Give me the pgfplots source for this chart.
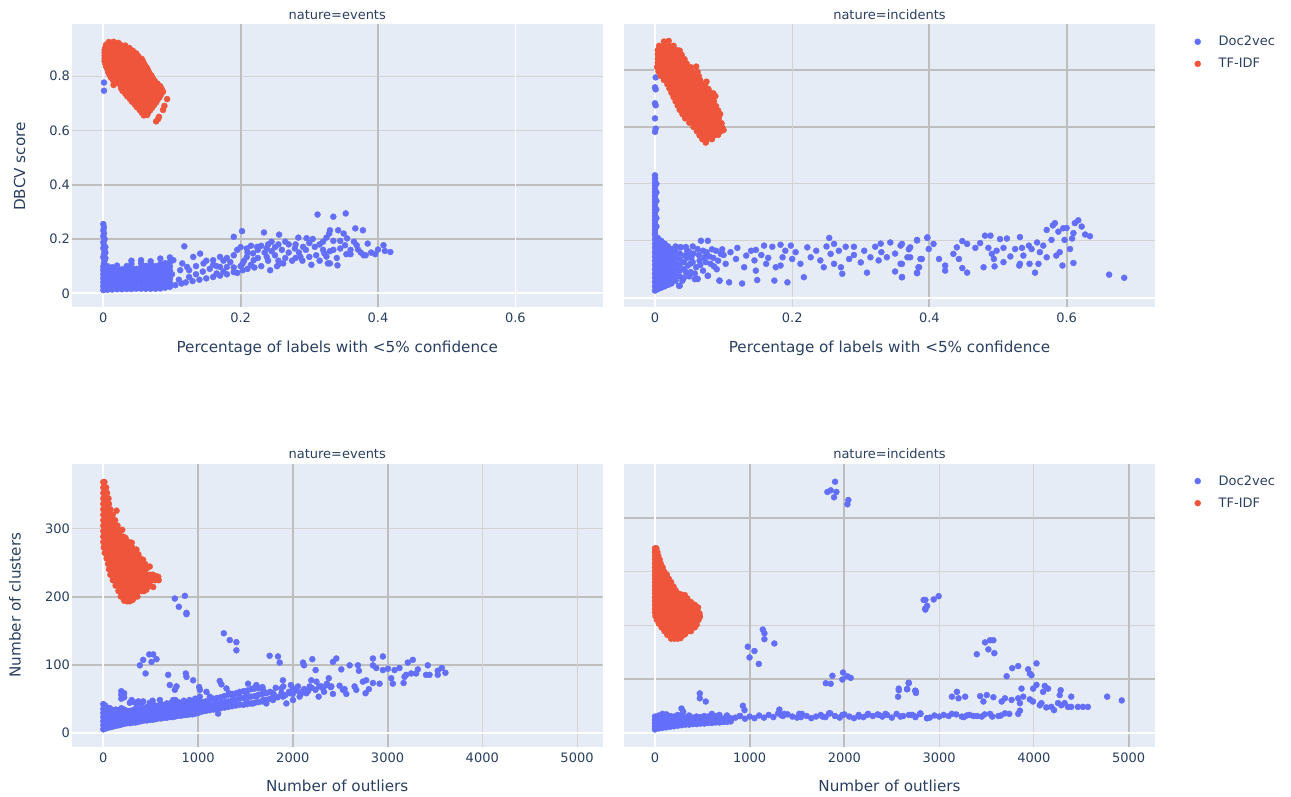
\documentclass[border=0pt]{standalone}
\usepackage{pgfplots}
\pgfplotsset{compat=1.18}
\usepackage{fontspec}
\setmainfont{DejaVu Sans}
\definecolor{d2v}{HTML}{636EFA}
\definecolor{tfidf}{HTML}{EF553B}
\definecolor{bgc}{HTML}{E5ECF6}
\definecolor{txt}{HTML}{2A3F5F}
\definecolor{gdk}{HTML}{BEBEBE}
\definecolor{glt}{HTML}{D3D3D3}
\tikzset{gd/.style={gdk,line width=2pt},gl/.style={glt,line width=1pt},gz/.style={white,line width=2pt},gw/.style={white,line width=1pt}}
\newcommand{\vg}[2]{\draw[#1] ({axis cs:#2,0}|-{rel axis cs:0,0}) -- ({axis cs:#2,0}|-{rel axis cs:0,1});}
\newcommand{\hg}[2]{\draw[#1] ({rel axis cs:0,0}|-{axis cs:0,#2}) -- ({rel axis cs:1,0}|-{axis cs:0,#2});}
\pgfplotsset{
  panel/.style={scale only axis, width=531pt, height=283.3pt, anchor=south west,
    axis background/.style={fill=bgc}, axis line style={draw=none},
    major tick length=0pt, tick style={draw=none},
    ticklabel style={font=\fontsize{13}{15}\selectfont, text=txt},
    xticklabel style={inner sep=0pt, anchor=north, yshift=-5.5pt},
    yticklabel style={inner sep=0pt, anchor=east, xshift=-1.5pt}},
  dv/.style={only marks, mark=*, mark size=3pt, color=d2v},
  tf/.style={only marks, mark=*, mark size=3pt, color=tfidf},
  leg/.style={legend style={draw=none, fill=none, at={(#1)}, anchor=north west, inner sep=0pt,
    row sep=7pt, font=\fontsize{13}{15}\selectfont, text=txt,
    /tikz/every odd column/.append style={column sep=16pt}},
    legend cell align=left,
    legend image code/.code={\draw[##1,mark size=3pt] plot coordinates {(0pt,0pt)};}}
}
\begin{document}
\begin{tikzpicture}[x=1pt,y=1pt]
\useasboundingbox (0,0) rectangle (1291,796);
% ---------------- top left
\begin{axis}[panel, at={(71.7pt,488.7pt)}, xmin=-0.046, xmax=0.7272, ymin=-0.0515, ymax=0.9915,
  xtick={0,0.2,0.4,0.6}, xticklabels={0,0.2,0.4,0.6}, ytick={0,0.2,0.4,0.6,0.8}, yticklabels={0,0.2,0.4,0.6,0.8}]
\hg{gd}{0.2}\hg{gd}{0.4}\hg{gl}{0.6}\hg{gl}{0.8}
\vg{gd}{0.2}\vg{gd}{0.4}\vg{gw}{0.6}
\hg{gz}{0}\vg{gz}{0}
\addplot[dv] coordinates {
(0.001,0.776)(0.001,0.746)
(0.000,0.255)(0.001,0.243)(0.000,0.232)(0.001,0.221)(0.000,0.210)(0.002,0.199)(0.000,0.188)(0.001,0.177)(0.000,0.166)(0.002,0.155)(0.001,0.144)(0.000,0.133)(0.002,0.122)(0.001,0.111)(0.003,0.170)(0.003,0.150)(0.003,0.130)
(0.000,0.012)(0.000,0.026)(0.000,0.040)(0.000,0.055)(0.000,0.070)(0.000,0.085)(0.000,0.098)
(0.006,0.013)(0.006,0.027)(0.006,0.042)(0.006,0.057)(0.006,0.072)(0.006,0.087)(0.006,0.100)
(0.013,0.014)(0.013,0.028)(0.013,0.043)(0.013,0.058)(0.013,0.073)(0.013,0.088)(0.013,0.096)
(0.020,0.015)(0.020,0.030)(0.020,0.045)(0.020,0.060)(0.020,0.075)(0.020,0.090)(0.020,0.102)
(0.027,0.015)(0.027,0.031)(0.027,0.046)(0.027,0.061)(0.027,0.076)(0.027,0.088)
(0.034,0.016)(0.034,0.032)(0.034,0.047)(0.034,0.062)(0.034,0.077)(0.034,0.092)(0.034,0.100)
(0.041,0.016)(0.041,0.033)(0.041,0.048)(0.041,0.063)(0.041,0.078)(0.041,0.093)(0.041,0.108)(0.041,0.120)
(0.048,0.017)(0.048,0.034)(0.048,0.049)(0.048,0.064)(0.048,0.079)(0.048,0.090)
(0.055,0.017)(0.055,0.035)(0.055,0.050)(0.055,0.065)(0.055,0.080)(0.055,0.095)(0.055,0.110)(0.055,0.122)
(0.062,0.017)(0.062,0.032)(0.062,0.047)(0.062,0.062)(0.062,0.077)(0.062,0.092)(0.062,0.101)
(0.069,0.017)(0.069,0.032)(0.069,0.047)(0.069,0.062)(0.069,0.077)(0.069,0.092)(0.069,0.107)(0.069,0.118)
(0.076,0.017)(0.076,0.032)(0.076,0.047)(0.076,0.062)(0.076,0.077)(0.076,0.092)(0.076,0.100)
(0.083,0.018)(0.083,0.033)(0.083,0.048)(0.083,0.063)(0.083,0.078)(0.083,0.093)(0.083,0.108)(0.083,0.128)
(0.090,0.021)(0.090,0.036)(0.090,0.051)(0.090,0.066)(0.090,0.081)(0.090,0.096)(0.090,0.111)
(0.097,0.024)(0.097,0.039)(0.097,0.054)(0.097,0.069)(0.097,0.084)(0.097,0.099)(0.097,0.114)(0.097,0.132)
(0.118,0.173)(0.190,0.208)(0.202,0.229)(0.234,0.224)(0.256,0.216)(0.312,0.290)(0.284,0.205)(0.296,0.203)(0.329,0.220)(0.209,0.165)(0.224,0.171)(0.218,0.147)(0.238,0.165)(0.250,0.170)(0.257,0.110)(0.262,0.110)(0.243,0.085)(0.253,0.100)(0.279,0.165)(0.287,0.134)(0.291,0.171)(0.300,0.134)(0.308,0.171)(0.315,0.180)(0.322,0.147)(0.327,0.110)(0.303,0.105)(0.280,0.130)(0.170,0.134)(0.180,0.097)(0.190,0.078)(0.160,0.122)(0.146,0.110)(0.141,0.146)(0.131,0.134)(0.122,0.097)(0.112,0.085)(0.102,0.122)(0.114,0.036)(0.170,0.097)(0.203,0.110)(0.209,0.134)(0.219,0.122)(0.238,0.134)(0.203,0.085)(0.165,0.073)
(0.335,0.282)(0.353,0.294)(0.330,0.232)(0.342,0.232)(0.350,0.220)(0.367,0.239)(0.378,0.232)(0.355,0.202)(0.335,0.193)(0.345,0.193)(0.352,0.177)(0.369,0.177)(0.371,0.161)(0.385,0.183)(0.379,0.140)(0.382,0.140)(0.396,0.144)(0.400,0.161)(0.408,0.177)(0.410,0.156)(0.418,0.152)(0.354,0.144)(0.360,0.144)(0.330,0.110)(0.341,0.103)(0.330,0.155)
(0.105,0.030)(0.110,0.050)(0.120,0.040)(0.125,0.060)(0.130,0.045)(0.135,0.070)(0.140,0.050)(0.145,0.080)(0.150,0.055)(0.155,0.090)(0.160,0.060)(0.165,0.100)(0.170,0.065)(0.175,0.080)(0.180,0.070)(0.185,0.115)(0.190,0.095)(0.195,0.075)(0.200,0.100)(0.205,0.120)(0.210,0.090)(0.215,0.105)(0.220,0.095)(0.225,0.130)(0.230,0.100)(0.235,0.150)(0.240,0.120)(0.245,0.155)(0.250,0.140)(0.255,0.120)(0.260,0.160)(0.265,0.130)(0.270,0.150)(0.275,0.120)(0.285,0.150)(0.290,0.120)(0.295,0.160)(0.310,0.140)(0.315,0.120)(0.320,0.160)(0.325,0.135)(0.335,0.160)(0.340,0.130)(0.345,0.165)(0.360,0.160)(0.365,0.190)(0.375,0.150)(0.390,0.150)
(0.100,0.070)(0.115,0.110)(0.125,0.085)(0.135,0.100)(0.150,0.120)(0.160,0.105)(0.175,0.120)(0.180,0.130)(0.190,0.140)(0.195,0.160)(0.200,0.170)(0.210,0.150)(0.215,0.175)(0.225,0.160)(0.230,0.175)(0.240,0.180)(0.245,0.190)(0.255,0.180)(0.265,0.190)(0.270,0.180)(0.280,0.180)(0.300,0.185)(0.305,0.200)(0.320,0.190)(0.325,0.205)
};
\addplot[tf] coordinates {
(0.008,0.925)(0.015,0.926)(0.022,0.922)
(0.004,0.915)(0.011,0.915)(0.018,0.915)(0.025,0.915)(0.032,0.912)
(0.003,0.905)(0.010,0.905)(0.017,0.905)(0.024,0.905)(0.031,0.905)(0.038,0.903)
(0.002,0.895)(0.009,0.895)(0.016,0.895)(0.023,0.895)(0.030,0.895)(0.037,0.895)(0.043,0.893)
(0.002,0.885)(0.009,0.885)(0.016,0.885)(0.023,0.885)(0.030,0.885)(0.037,0.885)(0.043,0.885)(0.048,0.883)
(0.002,0.875)(0.009,0.875)(0.016,0.875)(0.023,0.875)(0.030,0.875)(0.037,0.875)(0.044,0.875)(0.051,0.873)
(0.002,0.865)(0.009,0.865)(0.016,0.865)(0.023,0.865)(0.030,0.865)(0.037,0.865)(0.044,0.865)(0.051,0.865)(0.056,0.863)
(0.002,0.855)(0.009,0.855)(0.016,0.855)(0.023,0.855)(0.030,0.855)(0.037,0.855)(0.044,0.855)(0.051,0.855)(0.058,0.853)
(0.003,0.845)(0.010,0.845)(0.017,0.845)(0.024,0.845)(0.031,0.845)(0.038,0.845)(0.045,0.845)(0.052,0.845)(0.060,0.843)
(0.004,0.835)(0.011,0.835)(0.018,0.835)(0.025,0.835)(0.032,0.835)(0.039,0.835)(0.046,0.835)(0.053,0.835)(0.060,0.835)(0.063,0.832)
(0.006,0.825)(0.013,0.825)(0.020,0.825)(0.027,0.825)(0.034,0.825)(0.041,0.825)(0.048,0.825)(0.055,0.825)(0.062,0.825)(0.065,0.822)
(0.007,0.815)(0.014,0.815)(0.021,0.815)(0.028,0.815)(0.035,0.815)(0.042,0.815)(0.049,0.815)(0.056,0.815)(0.063,0.815)(0.067,0.812)
(0.009,0.805)(0.016,0.805)(0.023,0.805)(0.030,0.805)(0.037,0.805)(0.044,0.805)(0.051,0.805)(0.058,0.805)(0.065,0.805)(0.070,0.802)
(0.011,0.795)(0.018,0.795)(0.025,0.795)(0.032,0.795)(0.039,0.795)(0.046,0.795)(0.053,0.795)(0.060,0.795)(0.067,0.795)(0.072,0.792)
(0.014,0.785)(0.021,0.785)(0.028,0.785)(0.035,0.785)(0.042,0.785)(0.049,0.785)(0.056,0.785)(0.063,0.785)(0.070,0.785)(0.075,0.782)
(0.018,0.775)(0.025,0.775)(0.032,0.775)(0.039,0.775)(0.046,0.775)(0.053,0.775)(0.060,0.775)(0.067,0.775)(0.074,0.775)(0.079,0.772)
(0.015,0.767)(0.025,0.765)(0.032,0.765)(0.039,0.765)(0.046,0.765)(0.053,0.765)(0.060,0.765)(0.067,0.765)(0.074,0.765)(0.080,0.765)(0.083,0.762)
(0.026,0.755)(0.032,0.755)(0.039,0.755)(0.046,0.755)(0.053,0.755)(0.060,0.755)(0.067,0.755)(0.074,0.755)(0.081,0.755)(0.085,0.752)
(0.028,0.745)(0.035,0.745)(0.042,0.745)(0.049,0.745)(0.056,0.745)(0.063,0.745)(0.070,0.745)(0.077,0.745)(0.084,0.745)(0.087,0.742)
(0.032,0.735)(0.039,0.735)(0.046,0.735)(0.053,0.735)(0.060,0.735)(0.067,0.735)(0.074,0.735)(0.080,0.735)(0.084,0.732)
(0.035,0.725)(0.042,0.725)(0.049,0.725)(0.056,0.725)(0.063,0.725)(0.070,0.725)(0.077,0.725)(0.082,0.722)
(0.039,0.715)(0.046,0.715)(0.053,0.715)(0.060,0.715)(0.067,0.715)(0.074,0.715)(0.079,0.712)(0.093,0.715)
(0.042,0.705)(0.049,0.705)(0.056,0.705)(0.063,0.705)(0.070,0.705)(0.077,0.703)
(0.046,0.695)(0.053,0.695)(0.060,0.695)(0.067,0.695)(0.074,0.693)(0.089,0.690)
(0.049,0.685)(0.056,0.685)(0.063,0.685)(0.071,0.683)
(0.053,0.675)(0.060,0.675)(0.068,0.673)(0.087,0.675)
(0.056,0.665)(0.065,0.665)
(0.059,0.655)(0.064,0.657)(0.081,0.650)
(0.080,0.642)(0.077,0.633)
};
\end{axis}
% ---------------- top right
\begin{axis}[panel, at={(624pt,488.7pt)}, xmin=-0.0452, xmax=0.7289, ymin=-0.0337, ymax=0.9617,
  xtick={0,0.2,0.4,0.6}, xticklabels={0,0.2,0.4,0.6}, ytick=\empty, leg={1.0744,0.9647}]
\hg{gl}{0.2}\hg{gl}{0.4}\hg{gd}{0.6}\hg{gd}{0.8}
\vg{gl}{0.2}\vg{gd}{0.4}\vg{gd}{0.6}
\hg{gz}{0}\vg{gz}{0}
\addplot[dv] coordinates {
(0.001,0.774)(0.000,0.739)(0.001,0.732)(0.000,0.683)(0.001,0.676)(0.000,0.630)(0.001,0.594)(0.000,0.583)
(0.000,0.430)(0.000,0.418)(0.000,0.406)(0.000,0.394)(0.000,0.382)(0.000,0.370)(0.000,0.358)(0.000,0.346)(0.000,0.334)(0.000,0.322)(0.000,0.310)(0.000,0.298)(0.000,0.286)(0.000,0.274)(0.000,0.262)(0.000,0.250)(0.000,0.238)(0.000,0.226)
(0.002,0.400)(0.002,0.370)(0.002,0.340)(0.002,0.310)(0.002,0.280)(0.002,0.250)
(0.000,0.025)(0.000,0.040)(0.000,0.055)(0.000,0.070)(0.000,0.085)(0.000,0.100)(0.000,0.115)(0.000,0.130)(0.000,0.145)(0.000,0.160)(0.000,0.175)(0.000,0.190)(0.000,0.205)(0.000,0.220)
(0.004,0.030)(0.004,0.045)(0.004,0.060)(0.004,0.075)(0.004,0.090)(0.004,0.105)(0.004,0.120)(0.004,0.135)(0.004,0.150)(0.004,0.165)(0.004,0.180)(0.004,0.195)(0.004,0.210)
(0.009,0.035)(0.009,0.050)(0.009,0.065)(0.009,0.080)(0.009,0.095)(0.009,0.110)(0.009,0.125)(0.009,0.140)(0.009,0.155)(0.009,0.170)(0.009,0.185)(0.009,0.200)
(0.014,0.040)(0.014,0.055)(0.014,0.070)(0.014,0.085)(0.014,0.100)(0.014,0.115)(0.014,0.130)(0.014,0.145)(0.014,0.160)(0.014,0.175)(0.014,0.190)
(0.019,0.045)(0.019,0.060)(0.019,0.075)(0.019,0.090)(0.019,0.105)(0.019,0.120)(0.019,0.135)(0.019,0.150)(0.019,0.165)(0.019,0.180)
(0.024,0.050)(0.024,0.070)(0.024,0.090)(0.024,0.110)(0.024,0.130)(0.024,0.150)(0.024,0.170)
(0.030,0.060)(0.030,0.080)(0.030,0.100)(0.030,0.120)(0.030,0.140)(0.030,0.160)(0.030,0.180)
(0.036,0.042)(0.036,0.075)(0.036,0.095)(0.036,0.115)(0.036,0.135)(0.036,0.155)(0.036,0.177)
(0.043,0.148)(0.048,0.113)(0.053,0.142)(0.060,0.107)(0.062,0.171)(0.062,0.066)(0.067,0.200)(0.072,0.142)(0.077,0.200)(0.077,0.077)(0.081,0.119)(0.089,0.165)(0.094,0.060)(0.096,0.154)(0.103,0.119)(0.028,0.171)(0.018,0.177)(0.038,0.177)(0.045,0.090)(0.050,0.160)(0.055,0.125)(0.058,0.085)(0.065,0.130)(0.070,0.095)(0.075,0.160)(0.085,0.140)(0.090,0.100)(0.100,0.150)(0.040,0.060)(0.050,0.075)
(0.042,0.070)(0.042,0.100)(0.042,0.125)(0.047,0.140)(0.047,0.165)(0.052,0.090)(0.052,0.120)(0.056,0.155)(0.058,0.065)(0.064,0.150)(0.066,0.115)(0.070,0.165)(0.074,0.125)(0.079,0.145)(0.083,0.170)(0.086,0.110)(0.092,0.130)(0.098,0.170)(0.045,0.178)(0.055,0.180)
(0.147,0.168)(0.159,0.183)(0.171,0.179)(0.183,0.186)(0.198,0.183)(0.222,0.177)(0.254,0.210)(0.261,0.189)(0.278,0.179)(0.290,0.179)(0.321,0.179)(0.329,0.190)(0.343,0.194)(0.360,0.189)(0.382,0.203)(0.397,0.212)(0.118,0.136)(0.133,0.148)(0.145,0.131)(0.130,0.107)(0.147,0.095)(0.162,0.119)(0.176,0.107)(0.183,0.113)(0.186,0.142)(0.200,0.136)(0.212,0.119)(0.217,0.072)(0.227,0.142)(0.241,0.131)(0.246,0.107)(0.256,0.154)(0.261,0.119)(0.271,0.107)(0.283,0.136)(0.273,0.084)(0.300,0.124)(0.309,0.088)(0.314,0.142)(0.326,0.131)(0.338,0.142)(0.350,0.092)(0.360,0.072)(0.360,0.119)(0.372,0.142)(0.382,0.088)(0.384,0.107)(0.389,0.136)(0.062,0.066)(0.077,0.077)(0.094,0.060)(0.108,0.054)(0.127,0.050)(0.174,0.060)(0.193,0.054)(0.149,0.062)(0.035,0.042)
(0.110,0.160)(0.120,0.175)(0.140,0.165)(0.155,0.150)(0.165,0.140)(0.190,0.165)(0.205,0.160)(0.235,0.165)(0.250,0.180)(0.268,0.165)(0.290,0.150)(0.305,0.165)(0.330,0.160)(0.350,0.155)(0.370,0.170)
(0.358,0.183)(0.372,0.177)(0.382,0.201)(0.397,0.210)(0.406,0.189)(0.399,0.171)(0.368,0.142)(0.387,0.136)(0.358,0.119)(0.385,0.107)(0.382,0.086)(0.360,0.072)(0.414,0.136)(0.423,0.113)(0.423,0.095)(0.435,0.154)(0.440,0.177)(0.448,0.199)(0.455,0.189)(0.443,0.136)(0.448,0.104)(0.455,0.088)(0.467,0.175)(0.474,0.192)(0.481,0.218)(0.489,0.218)(0.486,0.175)(0.491,0.154)(0.494,0.136)(0.503,0.206)(0.508,0.175)(0.513,0.208)(0.518,0.145)(0.525,0.171)(0.532,0.213)(0.535,0.175)(0.537,0.148)(0.545,0.183)(0.549,0.171)(0.557,0.194)(0.561,0.160)(0.566,0.183)(0.571,0.238)(0.578,0.203)(0.583,0.262)(0.588,0.232)(0.595,0.244)(0.597,0.203)(0.605,0.171)(0.610,0.227)(0.612,0.262)(0.617,0.272)(0.622,0.250)(0.627,0.222)(0.634,0.216)(0.608,0.208)(0.590,0.160)(0.585,0.148)(0.571,0.142)(0.559,0.119)(0.554,0.088)(0.532,0.119)(0.546,0.119)(0.498,0.165)(0.479,0.107)(0.495,0.110)(0.508,0.125)(0.531,0.113)(0.594,0.113)(0.610,0.122)(0.662,0.081)(0.684,0.070)(0.580,0.254)(0.600,0.245)
};
\addlegendentry{Doc2vec}
\addplot[tf] coordinates {
(0.013,0.900)(0.020,0.902)
(0.006,0.885)(0.013,0.885)(0.020,0.885)(0.027,0.885)
(0.004,0.870)(0.011,0.870)(0.018,0.870)(0.025,0.870)(0.032,0.870)(0.036,0.868)
(0.004,0.855)(0.011,0.855)(0.018,0.855)(0.025,0.855)(0.032,0.855)(0.039,0.853)
(0.004,0.840)(0.011,0.840)(0.018,0.840)(0.025,0.840)(0.032,0.840)(0.039,0.840)(0.043,0.838)
(0.004,0.825)(0.011,0.825)(0.018,0.825)(0.025,0.825)(0.032,0.825)(0.039,0.825)(0.046,0.823)
(0.003,0.810)(0.010,0.810)(0.017,0.810)(0.024,0.810)(0.031,0.810)(0.038,0.810)(0.045,0.810)(0.052,0.810)(0.060,0.812)
(0.005,0.795)(0.012,0.795)(0.019,0.795)(0.026,0.795)(0.033,0.795)(0.040,0.795)(0.047,0.795)(0.054,0.795)(0.062,0.793)
(0.008,0.780)(0.015,0.780)(0.022,0.780)(0.029,0.780)(0.036,0.780)(0.043,0.780)(0.050,0.780)(0.057,0.780)(0.064,0.778)
(0.013,0.765)(0.020,0.765)(0.027,0.765)(0.034,0.765)(0.041,0.765)(0.048,0.765)(0.055,0.765)(0.062,0.765)(0.066,0.763)(0.075,0.759)
(0.018,0.750)(0.025,0.750)(0.032,0.750)(0.039,0.750)(0.046,0.750)(0.053,0.750)(0.060,0.750)(0.067,0.750)(0.073,0.748)
(0.021,0.735)(0.028,0.735)(0.035,0.735)(0.042,0.735)(0.049,0.735)(0.056,0.735)(0.063,0.735)(0.070,0.735)(0.078,0.733)
(0.024,0.720)(0.031,0.720)(0.038,0.720)(0.045,0.720)(0.052,0.720)(0.059,0.720)(0.066,0.720)(0.073,0.720)(0.080,0.720)(0.085,0.718)
(0.027,0.705)(0.034,0.705)(0.041,0.705)(0.048,0.705)(0.055,0.705)(0.062,0.705)(0.069,0.705)(0.076,0.705)(0.083,0.705)(0.088,0.708)
(0.030,0.690)(0.037,0.690)(0.044,0.690)(0.051,0.690)(0.058,0.690)(0.065,0.690)(0.072,0.690)(0.079,0.690)(0.086,0.690)
(0.033,0.675)(0.040,0.675)(0.047,0.675)(0.054,0.675)(0.061,0.675)(0.068,0.675)(0.075,0.675)(0.082,0.675)(0.089,0.673)
(0.036,0.660)(0.043,0.660)(0.050,0.660)(0.057,0.660)(0.064,0.660)(0.071,0.660)(0.078,0.660)(0.085,0.660)(0.092,0.658)
(0.040,0.645)(0.047,0.645)(0.054,0.645)(0.061,0.645)(0.068,0.645)(0.075,0.645)(0.082,0.645)(0.089,0.645)(0.095,0.645)
(0.044,0.630)(0.051,0.630)(0.058,0.630)(0.065,0.630)(0.072,0.630)(0.079,0.630)(0.086,0.630)(0.093,0.630)
(0.050,0.615)(0.057,0.615)(0.064,0.615)(0.071,0.615)(0.078,0.615)(0.085,0.615)(0.092,0.615)(0.097,0.613)
(0.056,0.600)(0.063,0.600)(0.070,0.600)(0.077,0.600)(0.084,0.600)(0.091,0.600)(0.098,0.598)
(0.061,0.585)(0.068,0.585)(0.075,0.585)(0.082,0.585)(0.089,0.585)(0.096,0.585)(0.100,0.589)
(0.065,0.570)(0.072,0.570)(0.079,0.570)(0.086,0.570)(0.092,0.572)
(0.069,0.557)(0.076,0.557)(0.083,0.557)
(0.074,0.545)
};
\addlegendentry{TF-IDF}
\end{axis}
% ---------------- bottom left
\begin{axis}[panel, at={(71.7pt,48.7pt)}, xmin=-333.5, xmax=5271, ymin=-21.4, ymax=394.6,
  xtick={0,1000,2000,3000,4000,5000}, xticklabels={0,1000,2000,3000,4000,5000},
  ytick={0,100,200,300}, yticklabels={0,100,200,300}]
\hg{gd}{100}\hg{gd}{200}\hg{gl}{300}
\vg{gd}{1000}\vg{gd}{2000}\vg{gd}{3000}\vg{gl}{4000}\vg{gl}{5000}
\hg{gz}{0}\vg{gz}{0}
\addplot[dv] coordinates {
(0,5)(0,11)(0,17)(0,23)(0,29)(0,35)(0,42)
(20,6)(20,12)(20,18)(20,24)(20,30)(20,36)(20,40)
(40,7)(40,13)(40,19)(40,25)(40,31)(40,37)
(70,8)(70,14)(70,20)(70,26)(70,32)(70,36)
(100,9)(100,15)(100,21)(100,27)(100,33)
(130,10)(130,16)(130,22)(130,28)(130,34)
(160,11)(160,17)(160,23)(160,29)(160,33)
(190,12)(190,18)(190,24)(190,30)(190,36)(190,50)(190,56)(190,61)
(220,13)(220,19)(220,25)(220,31)(220,34)(220,52)(220,58)
(250,14)(250,20)(250,26)(250,32)
(280,14)(280,20)(280,26)(280,32)(280,44)
(310,15)(310,21)(310,27)(310,33)(310,46)
(340,15)(340,21)(340,27)(340,35)(340,44)
(370,16)(370,22)(370,28)(370,34)(370,46)
(400,17)(400,23)(400,29)(400,36)(400,42)
(430,18)(430,24)(430,30)(430,35)
(460,18)(460,24)(460,30)(460,38)
(490,19)(490,25)(490,31)(490,37)(490,44)
(520,19)(520,25)(520,31)(520,37)(520,47)
(550,20)(550,26)(550,32)(550,40)
(580,21)(580,27)(580,33)(580,39)
(610,21)(610,27)(610,33)(610,42)
(640,22)(640,28)(640,34)(640,40)
(670,22)(670,28)(670,34)(670,43)
(700,23)(700,29)(700,35)(700,41)
(730,23)(730,29)(730,35)(730,44)
(760,24)(760,30)(760,36)(760,42)(760,48)
(790,25)(790,31)(790,37)(790,45)
(820,25)(820,31)(820,37)(820,43)
(850,26)(850,32)(850,38)(850,47)
(880,26)(880,32)(880,38)(880,44)
(910,27)(910,33)(910,39)(910,48)
(940,27)(940,33)(940,39)(940,45)
(970,28)(970,34)(970,40)(970,50)
(1000,29)(1000,35)(1000,41)(1000,47)
(1040,31)(1040,38)(1040,45)(1080,32)(1080,39)(1080,46)(1120,33)(1120,40)(1120,48)(1160,34)(1160,41)(1160,50)(1200,35)(1200,43)(1200,51)(1240,36)(1240,44)(1240,52)(1280,37)(1280,45)(1280,54)(1320,38)(1320,46)(1320,56)(1360,39)(1360,47)(1360,57)(1400,40)(1400,48)(1400,58)(1440,41)(1440,50)(1440,60)(1480,41)(1480,51)(1480,61)(1520,42)(1520,52)(1520,62)(1560,43)(1560,53)(1560,64)(1600,44)(1600,54)(1600,65)(1640,45)(1640,56)(1640,66)(1680,46)(1680,57)(1680,67)(1720,48)(1720,58)(1760,50)(1760,60)
(755,197)(861,201)(797,185)(878,176)(878,174)(1272,146)(1335,136)(1405,133)(1405,121)(1756,113)(1844,112)(1862,103)(2108,103)(2119,99)(2206,108)(2241,92)(2195,77)(2178,68)(2301,68)(2273,53)(386,99)(421,107)(446,87)(485,115)(527,115)(509,104)(562,108)(685,85)(773,68)(702,70)(755,63)(871,87)(878,82)(948,77)(1012,67)(1019,63)(1089,60)(1124,53)(1229,76)(1247,71)(1300,65)(1327,58)(1528,72)(1581,65)(1616,70)(1686,63)(1510,58)(1616,53)(1721,48)(1791,58)(1879,65)(1896,77)(1967,58)(2002,65)(2055,68)(2090,58)(299,48)(351,43)(421,46)(509,38)(597,48)(632,38)(702,43)(738,48)(878,43)(948,46)(1019,53)(1089,43)(1194,43)(1229,38)(1335,43)(1370,53)(1440,53)(1510,48)(1581,43)(1686,48)(1721,43)(1791,48)(1896,53)(1932,43)(2002,48)(2072,53)(2143,58)(1212,28)
(1800,56)(1840,52)(1880,58)(1920,55)(1960,60)(2000,57)(2040,62)(2080,59)(2120,64)(2160,61)(2200,66)(2240,63)(2280,68)(2320,65)(2360,70)(2400,67)(1820,66)(1900,68)(1980,70)
(2424,104)(2459,109)(2512,93)(2600,99)(2688,99)(2698,91)(2846,109)(2951,112)(2846,99)(2881,95)(2951,92)(3004,94)(3074,92)(3126,95)(3214,103)(3267,107)(3039,80)(3056,72)(3179,82)(3197,85)(3250,87)(3320,93)(3302,87)(3425,99)(3407,85)(3443,85)(3530,91)(3530,85)(3573,95)(3611,88)(3169,73)(2407,68)(2424,57)(2494,69)(2547,64)(2565,57)(2529,63)(2652,68)(2670,63)(2740,75)(2775,77)(2768,58)(2803,64)(2846,73)(2916,72)(2330,60)(2360,72)(2380,80)(2250,75)
};
\addplot[tf] coordinates {
(0,368)(12,368)
(0,360)(20,360)(30,360)
(0,352)(20,352)(40,352)
(0,344)(20,344)(40,344)(55,344)
(0,336)(20,336)(40,336)(60,336)
(0,328)(25,328)(50,328)(75,328)(140,326)
(0,320)(25,320)(50,320)(75,320)(100,320)
(0,312)(25,312)(50,312)(75,312)(100,312)(125,312)
(0,304)(25,304)(50,304)(75,304)(100,304)(125,304)(150,304)
(0,296)(25,296)(50,296)(75,296)(100,296)(125,296)(150,296)(175,296)(200,298)
(0,288)(30,288)(60,288)(90,288)(120,288)(150,288)(180,288)(210,288)(235,286)
(0,280)(30,280)(60,280)(90,280)(120,280)(150,280)(180,280)(210,280)(240,280)(270,280)(300,279)
(5,272)(35,272)(65,272)(95,272)(125,272)(155,272)(185,272)(215,272)(245,272)(275,272)(305,272)(350,269)
(15,264)(45,264)(75,264)(105,264)(135,264)(165,264)(195,264)(225,264)(255,264)(285,264)(315,264)(345,264)(370,262)
(35,256)(65,256)(95,256)(125,256)(155,256)(185,256)(215,256)(245,256)(275,256)(305,256)(335,256)(365,256)(390,256)(420,254)
(50,248)(80,248)(110,248)(140,248)(170,248)(200,248)(230,248)(260,248)(290,248)(320,248)(350,248)(380,248)(410,248)(440,248)
(60,240)(90,240)(120,240)(150,240)(180,240)(210,240)(240,240)(270,240)(300,240)(330,240)(360,240)(390,240)(420,240)(450,240)(490,244)
(75,232)(105,232)(135,232)(165,232)(195,232)(225,232)(255,232)(285,232)(315,232)(345,232)(375,232)(405,232)(435,232)(465,232)(495,232)(525,232)(555,230)(580,229)
(100,224)(130,224)(160,224)(190,224)(220,224)(250,224)(280,224)(310,224)(340,224)(370,224)(400,224)(430,224)(460,224)(490,224)(520,224)(550,224)(585,224)
(130,216)(160,216)(190,216)(220,216)(250,216)(280,216)(310,216)(340,216)(370,216)(400,216)(430,216)(460,216)(490,216)(527,214)
(160,208)(190,208)(220,208)(250,208)(280,208)(310,208)(340,208)(370,208)(400,208)(430,208)(455,210)
(185,200)(215,200)(245,200)(275,200)(305,200)(335,200)(360,200)
(220,194)(250,193)(280,193)(310,195)
};
\end{axis}
% ---------------- bottom right
\begin{axis}[panel, at={(624pt,48.7pt)}, xmin=-327, xmax=5278, ymin=-27.2, ymax=500,
  xtick={0,1000,2000,3000,4000,5000}, xticklabels={0,1000,2000,3000,4000,5000}, ytick=\empty, leg={1.0744,0.967}]
\hg{gd}{100}\hg{gl}{200}\hg{gl}{300}\hg{gd}{400}
\vg{gd}{1000}\vg{gd}{2000}\vg{gl}{3000}\vg{gl}{4000}\vg{gd}{5000}
\hg{gz}{0}\vg{gz}{0}
\addplot[dv] coordinates {
(0,6)(0,12)(0,18)(0,24)(0,30)
(40,8)(40,14)(40,20)(40,26)(40,32)
(80,9)(80,15)(80,21)(80,27)(80,35)
(120,10)(120,16)(120,22)(120,28)(120,34)
(160,11)(160,17)(160,23)(160,31)
(200,12)(200,18)(200,24)(200,30)
(240,13)(240,19)(240,25)(240,33)
(280,14)(280,20)(280,26)(280,32)
(320,15)(320,21)(320,28)
(360,15)(360,21)(360,27)(360,32)
(400,16)(400,22)(400,28)
(440,16)(440,22)(440,30)
(480,17)(480,23)(480,29)
(520,17)(520,23)(520,31)
(560,18)(560,24)(560,30)
(600,18)(600,24)(600,30)(600,35)
(640,19)(640,25)(640,31)
(680,19)(680,25)(680,33)
(720,20)(720,26)
(760,20)(760,26)(760,32)
(800,21)(800,27)
(1901,467)(1820,448)(1855,451)(1915,448)(1890,438)(2041,433)(2031,425)(980,160)(1050,152)(998,140)(1096,128)(1138,192)(1155,185)(1155,174)(1260,166)(1803,92)(1855,91)(1873,106)(1978,99)(1985,112)(2031,105)(2066,102)(2836,247)(2853,231)(473,73)(473,64)(536,58)(2566,67)(2573,82)(2661,81)(2678,92)(2748,78)(2755,74)(280,45)(298,39)(350,30)(893,31)(928,50)(945,42)(1313,43)(1330,33)(1365,35)(1523,35)(1540,29)(1768,30)(1838,36)(1978,33)(2153,30)(2241,33)(2363,33)(2433,35)(2591,30)(2713,33)(2801,36)(2871,27)
(2854,247)(2854,229)(2872,236)(2942,248)(2994,254)(3397,146)(3484,168)(3537,172)(3572,172)(3519,155)(3582,148)(3712,105)(3771,120)(3834,124)(3939,118)(3957,110)(3974,107)(4027,129)(2574,79)(2662,81)(2679,93)(2749,78)(2714,33)(2749,29)(2801,35)(2872,27)(3047,33)(3134,35)(3239,30)(3292,32)(3362,31)(3449,30)(3537,35)(3624,31)(3694,36)(3834,35)(3852,41)(3134,67)(3187,76)(3204,64)(3274,67)(3432,68)(3467,58)(3502,70)(3572,66)(3659,58)(3694,64)(3764,61)(3834,64)(3869,82)(3887,67)(3852,55)(3957,62)(3992,82)(3990,58)(4027,89)(4079,55)(4097,76)(4114,87)(4149,82)(4184,48)(4212,42)(4254,55)(4282,79)(4272,70)(4289,51)(4324,55)(4359,48)(4394,67)(4394,48)(4464,48)(4517,48)(4569,48)(4773,67)(4927,60)(4062,51)(4131,47)
(850,28)(900,31)(950,26)(1000,30)(1050,27)(1100,32)(1150,28)(1200,33)(1250,29)(1300,36)(1350,31)(1400,34)(1450,30)(1500,28)(1550,35)(1600,31)(1650,27)(1700,30)(1750,33)(1800,29)(1850,36)(1900,31)(1950,28)(2000,34)(2050,30)(2100,27)(2150,33)(2200,29)(2250,35)(2300,31)(2350,34)(2400,30)(2450,33)(2500,28)(2550,35)(2620,31)(2680,33)(2750,30)(2800,35)(2900,28)(2950,32)(3000,30)(3100,31)(3180,34)(3260,29)(3320,33)(3400,31)(3480,34)(3560,30)(3650,32)(3740,35)
};
\addlegendentry{Doc2vec}
\addplot[tf] coordinates {
(0,343)(15,343)
(0,336)(25,336)
(0,329)(35,329)
(0,322)(30,322)(50,322)
(0,315)(30,315)(60,315)
(0,308)(30,308)(60,308)(80,308)
(0,301)(30,301)(60,301)(90,301)(100,299)
(0,294)(30,294)(60,294)(90,294)(125,294)
(0,287)(35,287)(70,287)(105,287)(140,287)(150,285)
(0,280)(35,280)(70,280)(105,280)(140,280)(170,280)
(0,273)(35,273)(70,273)(105,273)(140,273)(175,273)(195,272)
(0,266)(35,266)(70,266)(105,266)(140,266)(175,266)(210,266)(220,264)
(0,259)(35,259)(70,259)(105,259)(140,259)(175,259)(210,259)(245,259)(280,257)(315,256)
(0,252)(35,252)(70,252)(105,252)(140,252)(175,252)(210,252)(245,252)(280,252)(315,252)(340,250)
(0,245)(35,245)(70,245)(105,245)(140,245)(175,245)(210,245)(245,245)(280,245)(315,245)(350,245)(380,243)
(0,238)(35,238)(70,238)(105,238)(140,238)(175,238)(210,238)(245,238)(280,238)(315,238)(350,238)(385,238)(420,238)
(0,231)(35,231)(70,231)(105,231)(140,231)(175,231)(210,231)(245,231)(280,231)(315,231)(350,231)(385,231)(420,231)(455,233)
(0,224)(35,224)(70,224)(105,224)(140,224)(175,224)(210,224)(245,224)(280,224)(315,224)(350,224)(385,224)(420,224)(455,224)(470,222)
(5,217)(40,217)(75,217)(110,217)(145,217)(180,217)(215,217)(250,217)(285,217)(320,217)(355,217)(390,217)(425,217)(460,217)(475,216)
(20,210)(55,210)(90,210)(125,210)(160,210)(195,210)(230,210)(265,210)(300,210)(335,210)(370,210)(405,210)(440,210)(460,210)
(40,203)(75,203)(110,203)(145,203)(180,203)(215,203)(250,203)(285,203)(320,203)(355,203)(390,203)(425,203)(440,201)
(70,196)(105,196)(140,196)(175,196)(210,196)(245,196)(280,196)(315,196)(350,196)(385,196)(420,196)
(100,189)(135,189)(170,189)(205,189)(240,189)(275,189)(310,189)(345,189)(380,189)
(130,182)(165,182)(200,182)(235,182)(270,182)(305,182)(320,184)
(170,175)(205,175)(240,175)(270,176)
};
\addlegendentry{TF-IDF}
\end{axis}
% ---------------- titles
\begin{scope}[every node/.style={text=txt, inner sep=0pt}]
\node[anchor=base, font=\fontsize{13}{15}\selectfont] at (337.2,776.7) {nature=events};
\node[anchor=base, font=\fontsize{13}{15}\selectfont] at (889.5,776.7) {nature=incidents};
\node[anchor=base, font=\fontsize{13}{15}\selectfont] at (337.2,337.7) {nature=events};
\node[anchor=base, font=\fontsize{13}{15}\selectfont] at (889.5,337.7) {nature=incidents};
\node[anchor=base, font=\fontsize{15.2}{18}\selectfont] at (337.2,443.3) {Percentage of labels with <5\% confidence};
\node[anchor=base, font=\fontsize{15.2}{18}\selectfont] at (889.5,443.3) {Percentage of labels with <5\% confidence};
\node[anchor=base, font=\fontsize{15.2}{18}\selectfont] at (337.2,4.3) {Number of outliers};
\node[anchor=base, font=\fontsize{15.2}{18}\selectfont] at (889.5,4.3) {Number of outliers};
\node[anchor=base, rotate=90, font=\fontsize{15.2}{18}\selectfont] at (25,629.5) {DBCV score};
\node[anchor=base, rotate=90, font=\fontsize{15.2}{18}\selectfont] at (20.7,190.7) {Number of clusters};
\end{scope}
\end{tikzpicture}
\end{document}
